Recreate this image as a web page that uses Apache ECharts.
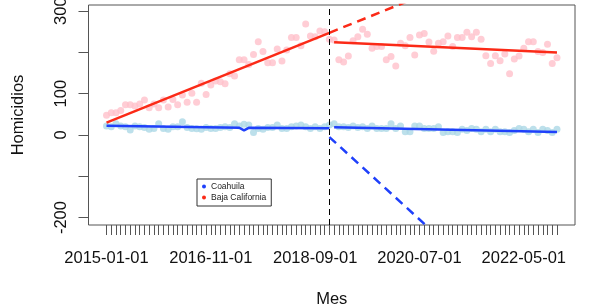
<!DOCTYPE html>
<html>
<head>
<meta charset="utf-8">
<script src="https://cdn.jsdelivr.net/npm/echarts@6/dist/echarts.min.js"></script>
<style>
html, body { margin: 0; padding: 0; background: #fff; }
#chart { width: 593px; height: 306px; }
</style>
</head>
<body>
<div id="chart"></div>
<script>
// meses 2015-01 .. 2022-12 (indice 0..95), intervencion en 2018-12
var nMonths = 96;
var cutIdx = 47;
var xTickIdx = [0, 22, 44, 66, 88];
var xTickLabels = ['2015-01-01', '2016-11-01', '2018-09-01', '2020-07-01', '2022-05-01'];
var yTicks = [-200, -100, 0, 100, 200, 300];
var yLabels = [-200, 0, 100, 300];

// homicidios mensuales
var coahuila = [22, 20, 27, 22, 20, 12, 22, 20, 18, 14, 16, 27, 16, 14, 20, 20,
  32, 18, 16, 15, 14, 18, 16, 16, 18, 20, 18, 27, 22, 26, 24, 6,
  16, 14, 18, 18, 24, 16, 16, 20, 22, 24, 20, 16, 20, 16, 20, 24,
  27, 20, 20, 18, 22, 18, 20, 16, 22, 16, 16, 16, 27, 16, 22, 8,
  8, 22, 22, 16, 16, 16, 20, 6, 8, 8, 6, 14, 11, 16, 14, 8,
  14, 8, 14, 8, 8, 6, 11, 16, 14, 8, 14, 6, 14, 11, 6, 14];
var bajaCal = [48, 54, 54, 59, 73, 73, 70, 75, 85, 66, 75, 66, 85, 68, 86, 73,
  97, 79, 101, 79, 125, 98, 121, 131, 129, 124, 148, 143, 182, 182, 171, 195,
  226, 202, 175, 175, 208, 179, 206, 236, 236, 216, 269, 240, 238, 252, 250, 232,
  230, 182, 177, 191, 228, 238, 256, 244, 210, 214, 214, 182, 190, 167, 222, 216,
  236, 194, 242, 246, 225, 203, 222, 226, 240, 214, 236, 236, 249, 238, 249, 232,
  192, 173, 192, 180, 196, 148, 184, 191, 210, 226, 226, 202, 200, 220, 173, 187];

// rectas ajustadas [mes, valor]
var coPreFit = [[0, 22.5], [28, 17.5], [29, 11], [30, 17.3], [47, 16.2]];
var coPostFit = [[48, 18.6], [95, 7.5]];
var coCounter = [[47, -5], [95, -509]];
var bcPreFit = [[0, 29.8], [47, 247.4]];
var bcPostFit = [[48, 224.4], [95, 200]];
var bcCounter = [[47, 247.4], [95, 470]];

function pairs(arr) {
    return arr.map(function (v, i) { return [i, v]; });
}

var allTicks = [];
for (var i = 0; i < nMonths; i++) allTicks.push(i);

var fontFam = '"Liberation Sans", Arial, Helvetica, sans-serif';
var blue = '#1f40fb';
var red = '#fb2a17';

var myChart = echarts.init(document.getElementById('chart'));

var option = {
    animation: false,
    grid: {
        left: 88.5,
        right: 18,
        top: 5,
        bottom: 81,
        show: true,
        borderColor: '#555',
        borderWidth: 1,
        containLabel: false,
        outerBoundsMode: 'none'
    },
    legend: {
        left: 197,
        top: 179,
        orient: 'vertical',
        icon: 'circle',
        itemWidth: 4,
        itemHeight: 4,
        itemGap: 2,
        padding: [3, 5, 4, 5],
        borderColor: '#333',
        borderWidth: 1,
        borderRadius: 0,
        backgroundColor: '#fff',
        textStyle: { fontSize: 8.5, color: '#222', fontFamily: fontFam },
        data: ['Coahuila', 'Baja California']
    },
    xAxis: {
        type: 'value',
        position: 'bottom',
        min: -3.8,
        max: 98.8,
        name: 'Mes',
        nameLocation: 'middle',
        nameGap: 66,
        nameTextStyle: { fontSize: 16.5, color: '#111', fontFamily: fontFam },
        axisLine: { show: false, onZero: false },
        splitLine: { show: false },
        axisTick: {
            show: true,
            length: 10,
            customValues: allTicks,
            lineStyle: { color: '#555', width: 1 }
        },
        axisLabel: {
            customValues: xTickIdx,
            margin: 25,
            fontSize: 16.5,
            color: '#111',
            fontFamily: fontFam,
            formatter: function (v) {
                var k = xTickIdx.indexOf(Math.round(v));
                return k >= 0 ? xTickLabels[k] : '';
            }
        }
    },
    yAxis: {
        type: 'value',
        position: 'left',
        min: -218,
        max: 314.8,
        name: 'Homicidios',
        nameLocation: 'middle',
        nameGap: 62,
        nameTextStyle: { fontSize: 16.5, color: '#111', fontFamily: fontFam },
        axisLine: { show: false, onZero: false },
        splitLine: { show: false },
        axisTick: {
            show: true,
            length: 10,
            customValues: yTicks,
            lineStyle: { color: '#555', width: 1 }
        },
        axisLabel: {
            customValues: yLabels,
            rotate: 90,
            margin: 19,
            fontSize: 16.5,
            color: '#111',
            fontFamily: fontFam
        }
    },
    series: [
        {
            name: 'Coahuila puntos',
            type: 'scatter',
            symbolSize: 7,
            itemStyle: { color: '#add8e6' },
            data: pairs(coahuila),
            markLine: {
                silent: true,
                symbol: 'none',
                label: { show: false },
                lineStyle: { color: '#000', type: [6, 4], width: 1 },
                data: [{ xAxis: cutIdx }]
            }
        },
        {
            name: 'Baja California puntos',
            type: 'scatter',
            symbolSize: 7,
            itemStyle: { color: '#ffc0cb' },
            data: pairs(bajaCal)
        },
        {
            name: 'Coahuila',
            type: 'line',
            color: blue,
            symbol: 'none',
            lineStyle: { color: blue, width: 2.5 },
            data: coPreFit
        },
        {
            name: 'Coahuila post',
            type: 'line',
            color: blue,
            symbol: 'none',
            lineStyle: { color: blue, width: 2.5 },
            data: coPostFit
        },
        {
            name: 'Coahuila contrafactual',
            type: 'line',
            color: blue,
            symbol: 'none',
            lineStyle: { color: blue, width: 2.5, type: [9, 6] },
            data: coCounter
        },
        {
            name: 'Baja California',
            type: 'line',
            color: red,
            symbol: 'none',
            lineStyle: { color: red, width: 2.5 },
            data: bcPreFit
        },
        {
            name: 'Baja California post',
            type: 'line',
            color: red,
            symbol: 'none',
            lineStyle: { color: red, width: 2.5 },
            data: bcPostFit
        },
        {
            name: 'Baja California contrafactual',
            type: 'line',
            color: red,
            symbol: 'none',
            lineStyle: { color: red, width: 2.5, type: [9, 6] },
            data: bcCounter
        }
    ]
};

myChart.setOption(option);
</script>
</body>
</html>
